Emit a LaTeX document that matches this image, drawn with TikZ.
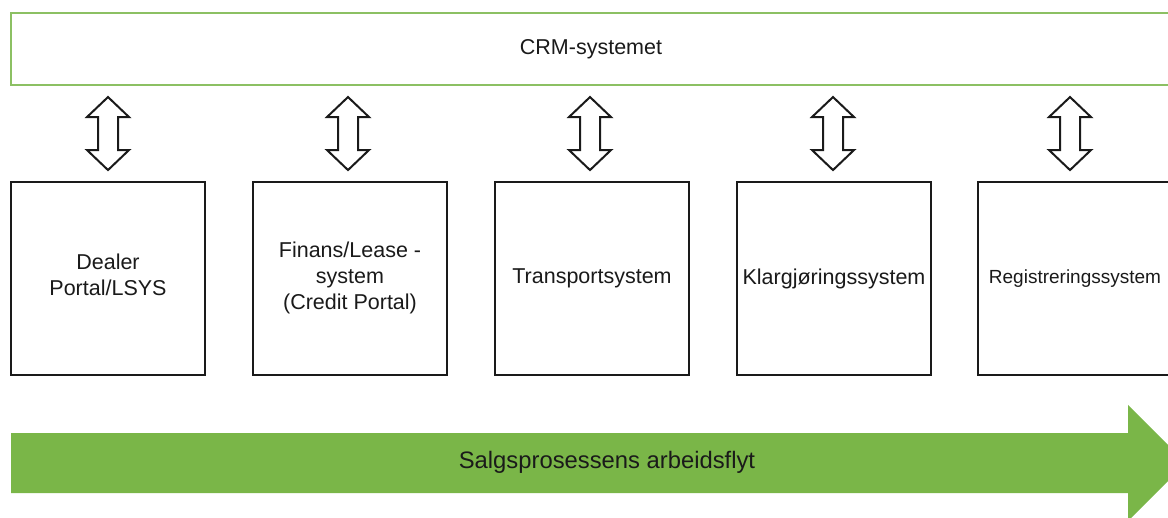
\documentclass[tikz,border=0pt]{standalone}
\usepackage{fontspec}
\setmainfont{Liberation Sans}
\definecolor{flowgreen}{HTML}{7AB648}
\definecolor{crmgreen}{HTML}{8CC063}
\definecolor{ink}{HTML}{1A1A1A}
\tikzset{
  sysbox/.style={draw=ink, line width=1pt, fill=white, minimum width=97pt, minimum height=96.5pt,
    inner sep=0pt, align=center, text=ink, font=\fontsize{10.75}{13}\selectfont},
  crmbox/.style={draw=crmgreen, line width=1.1pt, fill=white, minimum width=580pt, minimum height=36pt,
    inner sep=0pt, text=ink, font=\fontsize{10.75}{13}\selectfont},
  link/.style={draw=ink, line width=1pt, fill=white, line join=miter},
  pics/dblarrow/.style={code={
    \path[link] (0,-36.5) -- (21,-16.5) -- (10,-16.5) -- (10,16.5) -- (21,16.5)
      -- (0,36.5) -- (-21,16.5) -- (-10,16.5) -- (-10,-16.5) -- (-21,-16.5) -- cycle;
  }}
}
\begin{document}
\begin{tikzpicture}[x=0.5pt, y=-0.5pt]
\useasboundingbox (0,0) rectangle (1168,518);
\clip (0,0) rectangle (1168,518);

% top system
\node[crmbox] (crm) at (591,49) {CRM-systemet};

% sub-systems
\node[sysbox] (b1) at (108,278.5) {Dealer\\Portal/LSYS\\[-9pt]};
\node[sysbox] (b2) at (350,278.5) {Finans/Lease -\\system\\(Credit Portal)\\[-10pt]};
\node[sysbox] (b3) at (592,278.5) {Transportsystem};
\node[sysbox] (b4) at (834,278.5) {Klargjøringssystem};
\node[sysbox, font=\fontsize{9.5}{12}\selectfont] (b5) at (1075,278.5) {Registreringssystem};

% two-way links between CRM and each sub-system
\foreach \b/\dx in {b1/0,b2/-2,b3/-2,b4/-1,b5/-5} {
  \path (crm.south -| \b.north) -- (\b.north) coordinate[pos=0.5] (m\b);
  \pic at ([xshift=\dx*0.5pt]m\b) {dblarrow};
}

% sales workflow arrow
\coordinate (flowstart) at (11,463);
\coordinate (flowtip) at (1186,463);
\fill[flowgreen] (flowstart |- 0,433) -- (1128,433) -- (1128,405) -- (flowtip)
  -- (1128,521) -- (1128,493) -- (flowstart |- 0,493) -- cycle;
\node[text=ink, font=\fontsize{11.9}{14}\selectfont] (flow) at (607,462) {Salgsprosessens arbeidsflyt};
\end{tikzpicture}
\end{document}
